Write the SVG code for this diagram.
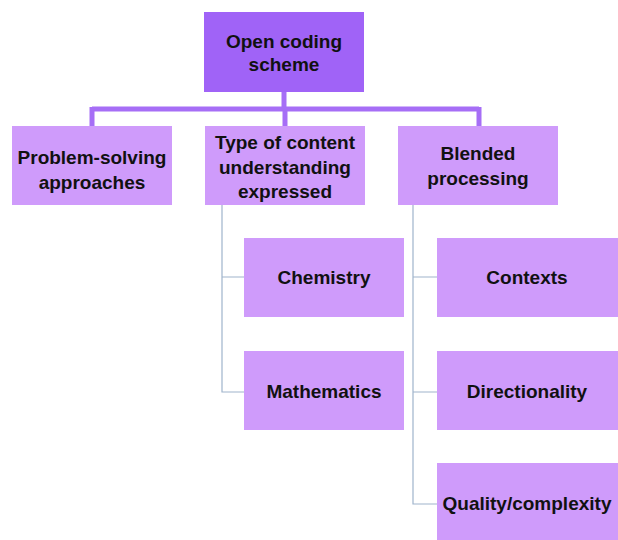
<svg xmlns="http://www.w3.org/2000/svg" width="618" height="540" viewBox="0 0 618 540">
  <style>
    .root { fill: #a063f7; }
    .box { fill: #cf9bfb; }
    .lbl { font-family: "Liberation Sans", Arial, sans-serif; font-weight: bold; font-size: 19px; fill: #111111; text-anchor: middle; }
    .bar { stroke: #a66ef6; stroke-width: 5; fill: none; }
    .thin { stroke: #9fb4cc; stroke-width: 1.2; fill: none; }
  </style>
  <rect width="618" height="540" fill="#ffffff"/>

  <!-- connectors -->
  <g id="connectors">
    <path class="bar" d="M284 92 V109 M92 109 H479 M92 107 V126 M285 109 V126 M479 107 V126"/>
    <path class="thin" d="M222 205 V392 H245 M222 277 H245"/>
    <path class="thin" d="M413 205 V504 H438 M413 277 H438 M413 392 H438"/>
  </g>

  <!-- root -->
  <g id="open-coding-scheme">
    <rect class="root" x="204" y="12" width="160" height="80"/>
    <text class="lbl" x="284" y="48">Open coding</text>
    <text class="lbl" x="284" y="71">scheme</text>
  </g>

  <!-- first level -->
  <g id="problem-solving">
    <rect class="box" x="12" y="126" width="160" height="79"/>
    <text class="lbl" x="92" y="164">Problem-solving</text>
    <text class="lbl" x="92" y="189">approaches</text>
  </g>
  <g id="content-understanding">
    <rect class="box" x="205" y="126" width="160" height="79"/>
    <text class="lbl" x="285" y="149">Type of content</text>
    <text class="lbl" x="285" y="174">understanding</text>
    <text class="lbl" x="285" y="198">expressed</text>
  </g>
  <g id="blended-processing">
    <rect class="box" x="398" y="126" width="160" height="79"/>
    <text class="lbl" x="478" y="160">Blended</text>
    <text class="lbl" x="478" y="185">processing</text>
  </g>

  <!-- content understanding children -->
  <g id="chemistry">
    <rect class="box" x="244" y="238" width="160" height="79"/>
    <text class="lbl" x="324" y="284">Chemistry</text>
  </g>
  <g id="mathematics">
    <rect class="box" x="244" y="351" width="160" height="79"/>
    <text class="lbl" x="324" y="398">Mathematics</text>
  </g>

  <!-- blended processing children -->
  <g id="contexts">
    <rect class="box" x="437" y="238" width="181" height="79"/>
    <text class="lbl" x="527" y="284">Contexts</text>
  </g>
  <g id="directionality">
    <rect class="box" x="437" y="351" width="181" height="79"/>
    <text class="lbl" x="527" y="398">Directionality</text>
  </g>
  <g id="quality-complexity">
    <rect class="box" x="437" y="463" width="181" height="77"/>
    <text class="lbl" x="527" y="510">Quality/complexity</text>
  </g>
</svg>
